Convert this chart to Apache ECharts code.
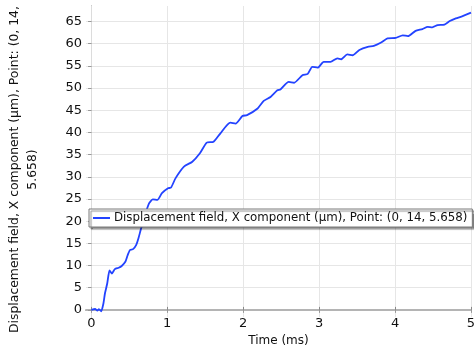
<!DOCTYPE html>
<html>
<head>
<meta charset="utf-8">
<script src="https://cdn.jsdelivr.net/npm/echarts@6/dist/echarts.min.js"></script>
<style>
  html, body { margin: 0; padding: 0; background: #fff; }
  #chart { width: 474px; height: 348px; }
</style>
</head>
<body>
<div id="chart"></div>
<script>
// time in ms
const timeMs = [
  0, 0.05, 0.08, 0.10, 0.13, 0.16, 0.18, 0.21, 0.24, 0.27, 0.31, 0.36, 0.40,
  0.45, 0.48, 0.51, 0.55, 0.59, 0.62, 0.65, 0.70, 0.76, 0.81, 0.87, 0.93,
  1.01, 1.05, 1.11, 1.22, 1.33, 1.43, 1.52, 1.61, 1.70, 1.83, 1.90, 1.99,
  2.05, 2.19, 2.27, 2.36, 2.45, 2.49, 2.60, 2.67, 2.78, 2.85, 2.91, 2.98,
  3.06, 3.15, 3.24, 3.29, 3.37, 3.44, 3.53, 3.64, 3.72, 3.81, 3.90, 4.01,
  4.10, 4.17, 4.27, 4.36, 4.43, 4.49, 4.56, 4.65, 4.72, 4.80, 4.89, 5.0
];
// displacement x component in um
const dispX = [
  0, 0.2, -0.15, 0.15, -0.3, 1.5, 3.75, 6.0, 8.9, 8.2, 9.2, 9.5, 9.9,
  10.9, 12.4, 13.5, 13.7, 14.6, 16.1, 18.0, 21.0, 24.0, 24.9, 24.8, 26.3,
  27.4, 27.6, 29.7, 32.3, 33.4, 35.3, 37.7, 37.9, 39.8, 42.2, 42.0, 43.7,
  43.9, 45.4, 47.1, 48.0, 49.5, 49.7, 51.4, 51.2, 52.9, 53.2, 54.8, 54.6,
  55.9, 55.9, 56.7, 56.5, 57.6, 57.4, 58.6, 59.3, 59.5, 60.2, 61.2, 61.3,
  61.9, 61.7, 62.9, 63.3, 63.8, 63.7, 64.2, 64.3, 65.1, 65.7, 66.2, 67.0
];
const xTicks = [0, 1, 2, 3, 4, 5];
const yTicks = [0, 5, 10, 15, 20, 25, 30, 35, 40, 45, 50, 55, 60, 65];

const seriesName = "Displacement field, X component (µm), Point: (0, 14, 5.658)";
const font = "DejaVu Sans";

const chart = echarts.init(document.getElementById("chart"));

const xMin = -0.07, xMax = 5.0;
const yMin = -1.6, yMax = 68.5;

chart.setOption({
  animation: false,
  textStyle: { fontFamily: font },
  grid: { left: 86, right: 3, top: 6, bottom: 31, outerBoundsMode: "none" },
  legend: {
    data: [seriesName],
    left: 89,
    top: 209,
    padding: [3, 5, 3, 4],
    icon: "rect",
    itemWidth: 17,
    itemHeight: 2,
    itemGap: 4,
    backgroundColor: "#fff",
    borderColor: "#7a7a7a",
    borderWidth: 1,
    borderRadius: 0,
    shadowColor: "rgba(0,0,0,0.45)",
    shadowBlur: 1,
    shadowOffsetX: 2,
    shadowOffsetY: 2,
    textStyle: { fontFamily: font, fontSize: 11.8, color: "#111", padding: [0, 0, 0, -1] }
  },
  xAxis: [
    {
      type: "value",
      min: xMin,
      max: xMax,
      name: "Time (ms)",
      nameLocation: "middle",
      nameGap: 8,
      nameTextStyle: { fontFamily: font, fontSize: 12, color: "#111" },
      axisLine: { lineStyle: { color: "#666", width: 1 } },
      axisTick: { inside: true, length: 3, customValues: xTicks, lineStyle: { color: "#888" } },
      axisLabel: { customValues: xTicks, margin: 0, fontSize: 13, color: "#111" },
      splitLine: { show: true, lineStyle: { color: "#e6e6e6" } }
    },
    {
      type: "value",
      position: "top",
      min: xMin,
      max: xMax,
      axisLine: { show: true, lineStyle: { color: "#b4b4b4", width: 2 } },
      axisTick: { inside: true, length: 3, customValues: xTicks, lineStyle: { color: "#999" } },
      axisLabel: { show: false },
      splitLine: { show: false }
    }
  ],
  yAxis: [
    {
      type: "value",
      min: yMin,
      max: yMax,
      name: "Displacement field, X component (µm), Point: (0, 14,\n5.658)",
      nameLocation: "middle",
      nameGap: 44,
      nameTextStyle: {
        fontFamily: font, fontSize: 12.4, color: "#111", lineHeight: 18,
        padding: [0, 16, 0, 0]
      },
      axisLine: { show: true, lineStyle: { color: "#666", width: 1 } },
      axisTick: { length: 3, customValues: yTicks, lineStyle: { color: "#888" } },
      axisLabel: { customValues: yTicks, margin: 4, fontSize: 13, color: "#111" },
      splitLine: { show: true, lineStyle: { color: "#e6e6e6" } }
    },
    {
      type: "value",
      position: "right",
      min: yMin,
      max: yMax,
      axisLine: { show: true, lineStyle: { color: "#dcdcdc", width: 1 } },
      axisTick: { inside: true, length: 3, customValues: yTicks, lineStyle: { color: "#999" } },
      axisLabel: { show: false },
      splitLine: { show: false }
    }
  ],
  series: [
    {
      name: seriesName,
      type: "line",
      symbol: "none",
      smooth: 0.2,
      lineStyle: { color: "#2343ff", width: 1.8 },
      itemStyle: { color: "#2343ff" },
      data: timeMs.map((t, i) => [t, dispX[i]])
    }
  ]
});
</script>
</body>
</html>
